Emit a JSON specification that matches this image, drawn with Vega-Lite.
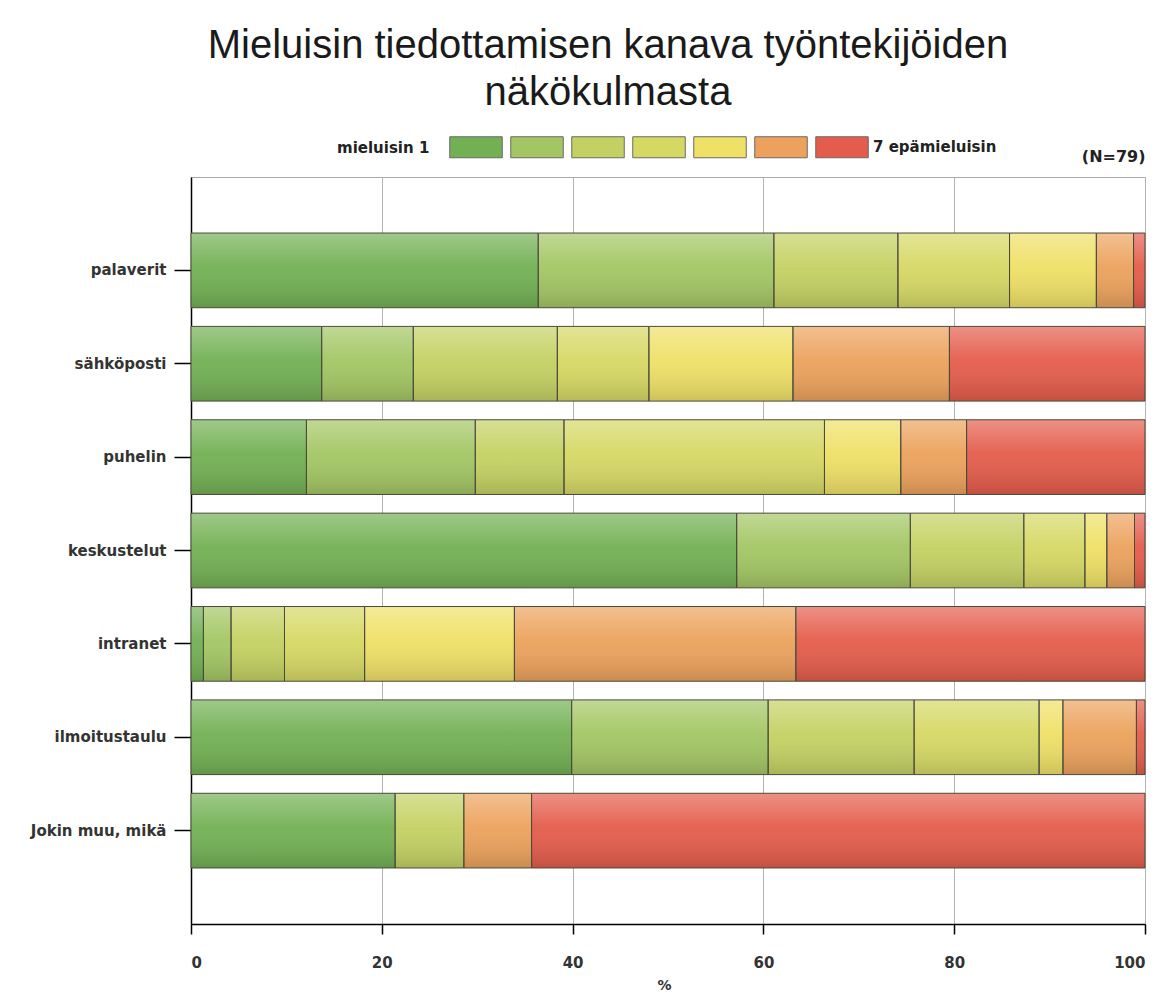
{
  "$schema": "https://vega.github.io/schema/vega-lite/v6.json",
  "width": 954,
  "height": 747,
  "autosize": {"type": "none"},
  "padding": {"left": 191, "top": 177, "right": 26, "bottom": 76},
  "background": "white",
  "title": {
    "text": ["Mieluisin tiedottamisen kanava työntekijöiden", "näkökulmasta"],
    "font": "Liberation Sans",
    "fontSize": 40,
    "fontWeight": "normal",
    "color": "#1a1a1a",
    "lineHeight": 47,
    "anchor": "middle",
    "dx": -60,
    "offset": 23
  },
  "data": {
    "values": [
      {"channel": "palaverit", "rank": 1, "pct": 36.4},
      {"channel": "palaverit", "rank": 2, "pct": 24.7},
      {"channel": "palaverit", "rank": 3, "pct": 13.0},
      {"channel": "palaverit", "rank": 4, "pct": 11.7},
      {"channel": "palaverit", "rank": 5, "pct": 9.1},
      {"channel": "palaverit", "rank": 6, "pct": 3.9},
      {"channel": "palaverit", "rank": 7, "pct": 1.2},
      {"channel": "sähköposti", "rank": 1, "pct": 13.7},
      {"channel": "sähköposti", "rank": 2, "pct": 9.6},
      {"channel": "sähköposti", "rank": 3, "pct": 15.1},
      {"channel": "sähköposti", "rank": 4, "pct": 9.6},
      {"channel": "sähköposti", "rank": 5, "pct": 15.1},
      {"channel": "sähköposti", "rank": 6, "pct": 16.4},
      {"channel": "sähköposti", "rank": 7, "pct": 20.5},
      {"channel": "puhelin", "rank": 1, "pct": 12.1},
      {"channel": "puhelin", "rank": 2, "pct": 17.7},
      {"channel": "puhelin", "rank": 3, "pct": 9.3},
      {"channel": "puhelin", "rank": 4, "pct": 27.3},
      {"channel": "puhelin", "rank": 5, "pct": 8.0},
      {"channel": "puhelin", "rank": 6, "pct": 6.9},
      {"channel": "puhelin", "rank": 7, "pct": 18.7},
      {"channel": "keskustelut", "rank": 1, "pct": 57.2},
      {"channel": "keskustelut", "rank": 2, "pct": 18.2},
      {"channel": "keskustelut", "rank": 3, "pct": 11.9},
      {"channel": "keskustelut", "rank": 4, "pct": 6.4},
      {"channel": "keskustelut", "rank": 5, "pct": 2.3},
      {"channel": "keskustelut", "rank": 6, "pct": 2.9},
      {"channel": "keskustelut", "rank": 7, "pct": 1.1},
      {"channel": "intranet", "rank": 1, "pct": 1.3},
      {"channel": "intranet", "rank": 2, "pct": 2.9},
      {"channel": "intranet", "rank": 3, "pct": 5.6},
      {"channel": "intranet", "rank": 4, "pct": 8.4},
      {"channel": "intranet", "rank": 5, "pct": 15.7},
      {"channel": "intranet", "rank": 6, "pct": 29.5},
      {"channel": "intranet", "rank": 7, "pct": 36.6},
      {"channel": "ilmoitustaulu", "rank": 1, "pct": 39.9},
      {"channel": "ilmoitustaulu", "rank": 2, "pct": 20.6},
      {"channel": "ilmoitustaulu", "rank": 3, "pct": 15.3},
      {"channel": "ilmoitustaulu", "rank": 4, "pct": 13.1},
      {"channel": "ilmoitustaulu", "rank": 5, "pct": 2.5},
      {"channel": "ilmoitustaulu", "rank": 6, "pct": 7.7},
      {"channel": "ilmoitustaulu", "rank": 7, "pct": 0.9},
      {"channel": "Jokin muu, mikä", "rank": 1, "pct": 21.4},
      {"channel": "Jokin muu, mikä", "rank": 3, "pct": 7.2},
      {"channel": "Jokin muu, mikä", "rank": 6, "pct": 7.1},
      {"channel": "Jokin muu, mikä", "rank": 7, "pct": 64.3}
    ]
  },
  "layer": [
    {
      "mark": {"type": "bar", "opacity": 1},
      "encoding": {
        "y": {
          "field": "channel",
          "type": "nominal",
          "sort": null,
          "scale": {"paddingInner": 0.2, "paddingOuter": 0.6},
          "axis": {
            "title": null,
            "domainColor": "#000000",
            "domainWidth": 1.5,
            "tickColor": "#000000",
            "tickWidth": 1.5,
            "tickSize": 17,
            "labelPadding": 8,
            "labelFont": "DejaVu Sans",
            "labelFontWeight": "bold",
            "labelFontSize": 15,
            "labelColor": "#333333",
            "grid": false
          }
        },
        "x": {
          "field": "pct",
          "type": "quantitative",
          "stack": "zero",
          "scale": {"domain": [0, 100], "nice": false},
          "axis": {
            "title": "%",
            "values": [0, 20, 40, 60, 80, 100],
            "grid": true,
            "gridColor": "#b4b4b4",
            "gridWidth": 1,
            "domainColor": "#000000",
            "domainWidth": 1.5,
            "tickColor": "#000000",
            "tickWidth": 1.5,
            "tickSize": 10,
            "labelPadding": 21,
            "labelFont": "DejaVu Sans",
            "labelFontWeight": "bold",
            "labelFontSize": 15,
            "labelColor": "#333333",
            "titleFont": "DejaVu Sans",
            "titleFontWeight": "bold",
            "titleFontSize": 14,
            "titleColor": "#333333",
            "titlePadding": 8,
            "titleX": 473
          }
        },
        "color": {
          "field": "rank",
          "type": "ordinal",
          "scale": {
            "domain": [1, 2, 3, 4, 5, 6, 7],
            "range": ["#72b053", "#a3c663", "#c4d162", "#d6d864", "#efe066", "#eca25c", "#e45c4b"]
          },
          "legend": {
            "orient": "none",
            "legendX": 146,
            "legendY": -41,
            "direction": "horizontal",
            "title": "mieluisin 1",
            "titleOrient": "left",
            "titleFont": "DejaVu Sans",
            "titleFontWeight": "bold",
            "titleFontSize": 15,
            "titleColor": "#222222",
            "titlePadding": 35,
            "symbolType": "M-2.5,-1H2.5V1H-2.5Z",
            "symbolSize": 441,
            "symbolStrokeColor": "#6a6a6a",
            "symbolStrokeWidth": 1,
            "symbolOpacity": 1,
            "columnPadding": 1,
            "labelExpr": "datum.value == 7 ? '7 epämieluisin' : ''",
            "labelFont": "DejaVu Sans",
            "labelFontWeight": "bold",
            "labelFontSize": 15,
            "labelColor": "#222222",
            "labelOffset": 20
          }
        },
        "order": {"field": "rank", "type": "quantitative"}
      }
    },
    {
      "mark": {
        "type": "bar",
        "stroke": "#4b4b3c",
        "strokeWidth": 1,
        "fill": {
          "gradient": "linear",
          "x1": 0, "y1": 0, "x2": 0, "y2": 1,
          "stops": [
            {"offset": 0, "color": "rgba(255,255,255,0.32)"},
            {"offset": 0.45, "color": "rgba(255,255,255,0.05)"},
            {"offset": 1, "color": "rgba(0,0,0,0.14)"}
          ]
        }
      },
      "encoding": {
        "y": {"field": "channel", "type": "nominal", "sort": null},
        "x": {
          "field": "pct",
          "type": "quantitative",
          "stack": "zero",
          "axis": {
            "orient": "top",
            "title": "(N=79)",
            "titleAnchor": "end",
            "titleFont": "DejaVu Sans",
            "titleFontWeight": "bold",
            "titleFontSize": 16,
            "titleColor": "#222222",
            "titlePadding": 13,
            "labels": false,
            "ticks": false,
            "domain": false,
            "grid": false
          }
        },
        "detail": {"field": "rank", "type": "ordinal"},
        "order": {"field": "rank", "type": "quantitative"}
      }
    }
  ],
  "resolve": {"axis": {"x": "independent"}},
  "config": {
    "view": {"stroke": "#a8a8a8", "strokeWidth": 1}
  }
}
